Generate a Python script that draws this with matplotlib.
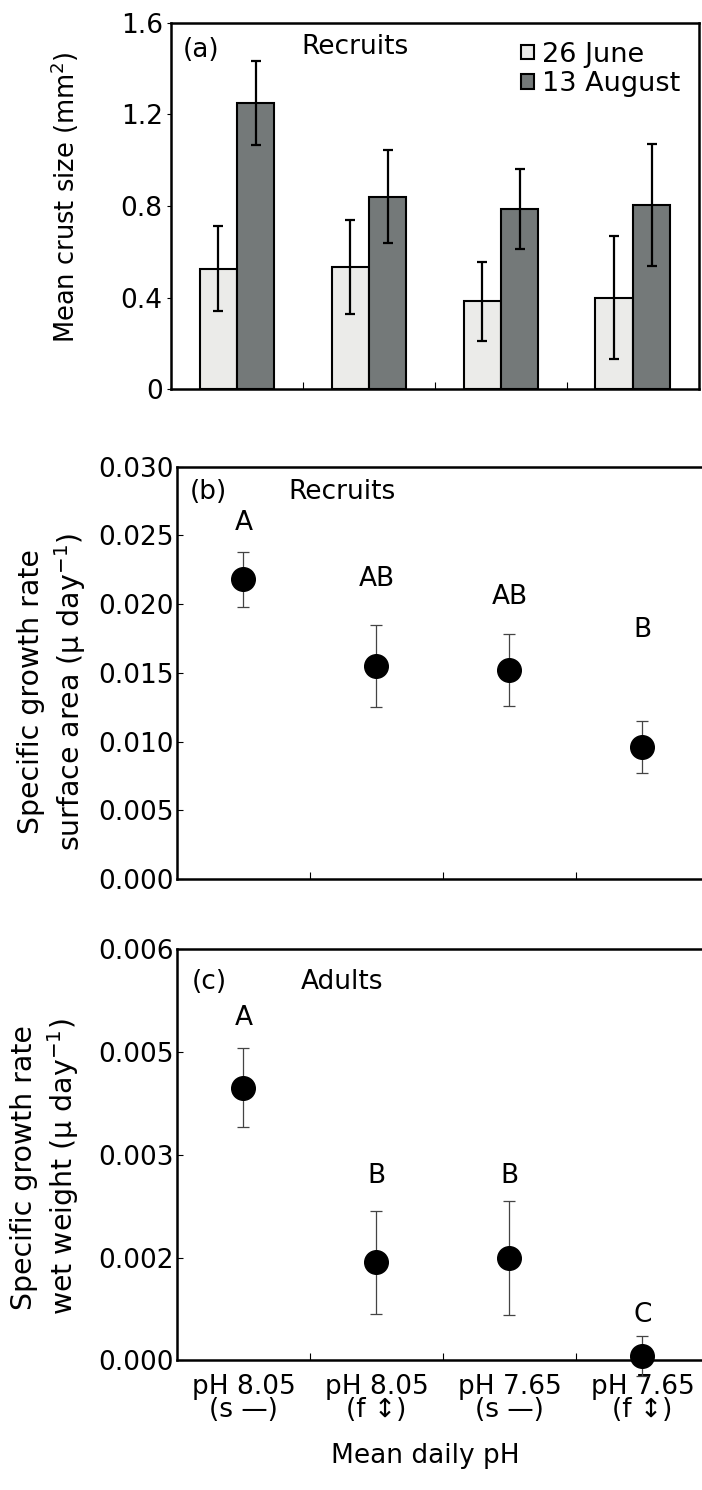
import matplotlib
matplotlib.use('Agg')
import matplotlib.pyplot as plt
import numpy as np

plt.rcParams['font.family'] = ['DejaVu Sans']
plt.rcParams['font.size'] = 19
plt.rcParams['mathtext.fontset'] = 'dejavusans'

# (a) mean crust size of recruits
june = [0.527, 0.534, 0.384, 0.400]
june_err = [0.184, 0.204, 0.174, 0.268]
august = [1.251, 0.841, 0.787, 0.804]
august_err = [0.183, 0.202, 0.173, 0.267]

# (b) specific growth rate, surface area (recruits)
sgr_area = [0.0218, 0.0155, 0.0152, 0.0096]
sgr_area_err = [0.0020, 0.0030, 0.0026, 0.0019]
area_letters = ['A', 'AB', 'AB', 'B']
area_letter_y = [0.0259, 0.0218, 0.0205, 0.0181]

# (c) specific growth rate, wet weight (adults)
sgr_wet = [0.00398, 0.00143, 0.00149, 0.00006]
sgr_wet_err = [0.00058, 0.00075, 0.00083, 0.00029]
wet_letters = ['A', 'B', 'B', 'C']
wet_letter_y = [0.00499, 0.00269, 0.00269, 0.00066]

treatments = ['pH 8.05\n(s \u2014)', 'pH 8.05\n(f \u2195)',
              'pH 7.65\n(s \u2014)', 'pH 7.65\n(f \u2195)']
x = np.arange(1, 5)

fig = plt.figure(figsize=(7.02, 14.90), dpi=100)
ax1 = fig.add_axes([0.2436, 0.7387, 0.7521, 0.2460])
ax2 = fig.add_axes([0.2521, 0.4099, 0.7578, 0.2769])
ax3 = fig.add_axes([0.2521, 0.0870, 0.7578, 0.2760])

for ax in (ax1, ax2, ax3):
    for s in ax.spines.values():
        s.set_linewidth(1.8)
    ax.set_xlim(0.5, 4.5)
    ax.set_xticks([1.5, 2.5, 3.5])
    ax.set_xticklabels([])
    ax.tick_params(axis='x', which='major', direction='in', length=5, width=0.8)
    ax.tick_params(axis='y', direction='in', length=4, width=0.8, pad=2)
ax1.tick_params(axis='y', direction='out', length=3, pad=3)

# panel (a)
w = 0.284
ax1.bar(x - w / 2, june, w, color='#ebebe9', edgecolor='black', linewidth=1.5,
        label='26 June', zorder=2)
ax1.bar(x + w / 2, august, w, color='#747979', edgecolor='black', linewidth=1.5,
        label='13 August', zorder=2)
ax1.errorbar(x - w / 2, june, yerr=june_err, fmt='none', ecolor='black',
             elinewidth=1.6, capsize=3.5, capthick=1.6, zorder=3)
ax1.errorbar(x + w / 2, august, yerr=august_err, fmt='none', ecolor='black',
             elinewidth=1.6, capsize=3.5, capthick=1.6, zorder=3)
ax1.set_ylim(0, 1.6)
ax1.set_yticks([0, 0.4, 0.8, 1.2, 1.6])
ax1.set_yticklabels(['0', '0.4', '0.8', '1.2', '1.6'])
ax1.set_ylabel('Mean crust size (mm$^2$)', fontsize=18.5)
ax1.yaxis.set_label_coords(-0.17, 0.523)
leg = ax1.legend(loc='upper right', bbox_to_anchor=(1.0, 1.0), frameon=False,
                 fontsize=19.5, handlelength=0.45, handleheight=0.45,
                 handletextpad=0.3, labelspacing=0.12, borderaxespad=0.3)
ax1.text(0.022, 0.925, '(a)', transform=ax1.transAxes, va='center')
ax1.text(0.348, 0.935, 'Recruits', transform=ax1.transAxes, va='center', ha='center')

# panel (b)
ax2.errorbar(x, sgr_area, yerr=sgr_area_err, fmt='o', color='black', ms=17,
             ecolor='#444444', elinewidth=0.9, capsize=4, capthick=0.9)
for xi, lab, ly in zip(x, area_letters, area_letter_y):
    ax2.text(xi, ly, lab, ha='center', va='center')
ax2.set_ylim(0, 0.030)
ax2.set_yticks([0, 0.005, 0.010, 0.015, 0.020, 0.025, 0.030])
ax2.set_yticklabels(['0.000', '0.005', '0.010', '0.015', '0.020', '0.025', '0.030'])
ax2.set_ylabel('Specific growth rate\nsurface area (\u03bc day$^{-1}$)',
               fontsize=20.4, linespacing=1.25)
ax2.yaxis.set_label_coords(-0.168, 0.454)
ax2.text(0.024, 0.939, '(b)', transform=ax2.transAxes, va='center')
ax2.text(0.31, 0.939, 'Recruits', transform=ax2.transAxes, va='center', ha='center')

# panel (c)
ax3.errorbar(x, sgr_wet, yerr=sgr_wet_err, fmt='o', color='black', ms=17,
             ecolor='#444444', elinewidth=0.9, capsize=4, capthick=0.9, clip_on=False)
for xi, lab, ly in zip(x, wet_letters, wet_letter_y):
    ax3.text(xi, ly, lab, ha='center', va='center')
ax3.set_ylim(0, 0.006)
ax3.set_yticks([0, 0.0015, 0.003, 0.0045, 0.006])
ax3.set_yticklabels(['0.000', '0.002', '0.003', '0.005', '0.006'])
ax3.set_xticks(x, minor=True)
ax3.set_xticklabels(treatments, minor=True, linespacing=0.85)
ax3.tick_params(axis='x', which='minor', length=0, pad=10)
ax3.set_ylabel('Specific growth rate\nwet weight (\u03bc day$^{-1}$)',
               fontsize=20.4, linespacing=1.25)
ax3.yaxis.set_label_coords(-0.18, 0.47)
ax3.set_xlabel('Mean daily pH')
ax3.xaxis.set_label_coords(0.466, -0.2)
ax3.text(0.027, 0.919, '(c)', transform=ax3.transAxes, va='center')
ax3.text(0.31, 0.919, 'Adults', transform=ax3.transAxes, va='center', ha='center')

fig.savefig('out.png', dpi=100)
